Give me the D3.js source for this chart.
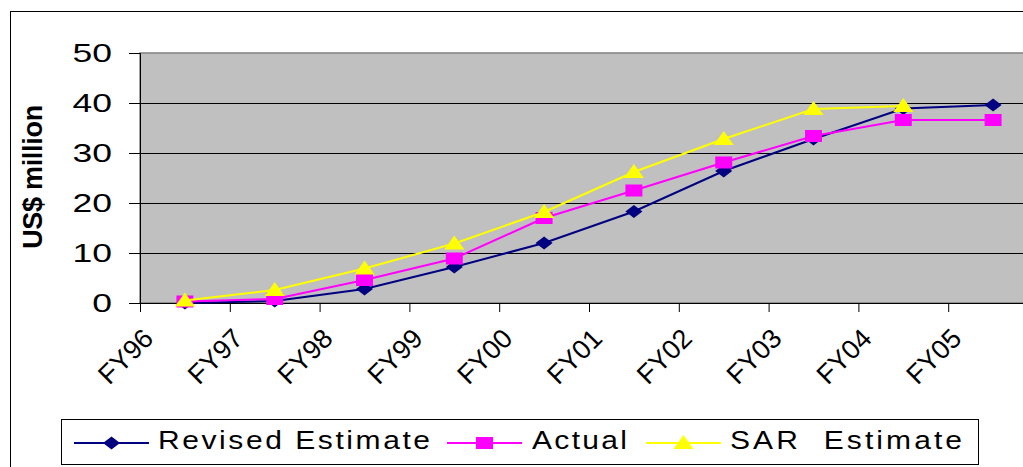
<!DOCTYPE html>
<html>
<head>
<meta charset="utf-8">
<script src="https://cdn.jsdelivr.net/npm/d3@7"></script>
<style>
  html, body { margin: 0; padding: 0; background: #fff; }
  svg { display: block; font-family: "Liberation Sans", Arial, sans-serif; }
</style>
</head>
<body>
<script>
// Chart data
const categories = ['FY96', 'FY97', 'FY98', 'FY99', 'FY00', 'FY01', 'FY02', 'FY03', 'FY04', 'FY05'];
const revisedEstimate = [0, 0.4, 2.8, 7.2, 12, 18.3, 26.4, 32.8, 38.9, 39.6];
const actual = [0.3, 0.8, 4.6, 8.9, 17, 22.5, 28.1, 33.4, 36.6, 36.6];
const sarEstimate = [0.5, 2.6, 6.9, 11.9, 18.2, 26.2, 32.8, 38.8, 39.4, null];
const yTicks = [0, 10, 20, 30, 40, 50];
const seriesNames = ['Revised Estimate', 'Actual', 'SAR  Estimate'];

const width = 1023, height = 467;
const plot = { left: 140, top: 53, bottom: 303, band: 89.8 };

const svg = d3.select('body').append('svg')
    .attr('width', width)
    .attr('height', height);

// outer chart frame
svg.append('rect')
    .attr('x', 10.5).attr('y', 11.5)
    .attr('width', 1100).attr('height', 600)
    .attr('fill', '#fff').attr('stroke', '#000').attr('stroke-width', 1);

const x = d3.scaleBand()
    .domain(categories)
    .range([plot.left, plot.left + plot.band * categories.length]);

const y = d3.scaleLinear()
    .domain([0, 50])
    .range([plot.bottom, plot.top]);

// plot area
svg.append('rect')
    .attr('x', plot.left).attr('y', plot.top)
    .attr('width', 1100).attr('height', plot.bottom - plot.top)
    .attr('fill', '#c0c0c0').attr('stroke', '#808080').attr('stroke-width', 1.5);

// gridlines
svg.append('g')
    .selectAll('line')
    .data(yTicks.filter(d => d > 0 && d < 50))
    .join('line')
    .attr('x1', plot.left).attr('x2', width)
    .attr('y1', d => Math.round(y(d)) + 0.5).attr('y2', d => Math.round(y(d)) + 0.5)
    .attr('stroke', '#000').attr('stroke-width', 1);

// y axis
const yAxis = svg.append('g')
    .attr('transform', `translate(${plot.left},0)`)
    .call(d3.axisLeft(y).tickValues(yTicks).tickSize(11).tickFormat(d3.format('d')));
yAxis.select('.domain').attr('stroke', '#000');
yAxis.selectAll('.tick line').attr('stroke', '#000');
yAxis.selectAll('.tick text')
    .attr('x', null).attr('dy', null)
    .attr('font-size', 25)
    .attr('fill', '#000')
    .attr('text-anchor', 'end')
    .attr('dominant-baseline', 'central')
    .attr('transform', 'translate(-28,0) scale(1.42,1)');

// x axis: ticks between categories
const xAxisG = svg.append('g');
xAxisG.append('line')
    .attr('x1', plot.left).attr('x2', width)
    .attr('y1', plot.bottom + 0.5).attr('y2', plot.bottom + 0.5)
    .attr('stroke', '#000');
xAxisG.selectAll('line.tick')
    .data(categories)
    .join('line')
    .attr('class', 'tick')
    .attr('x1', d => x(d) + 0.5).attr('x2', d => x(d) + 0.5)
    .attr('y1', plot.bottom).attr('y2', plot.bottom + 9)
    .attr('stroke', '#000');
xAxisG.selectAll('text')
    .data(categories)
    .join('text')
    .attr('transform', d => `translate(${x(d) + x.bandwidth() / 2 - 30},340) rotate(-45)`)
    .attr('text-anchor', 'end')
    .attr('font-size', 27)
    .attr('fill', '#000')
    .text(d => d);

// y axis title
svg.append('text')
    .attr('transform', 'translate(42,177) rotate(-90)')
    .attr('text-anchor', 'middle')
    .attr('font-size', 27)
    .attr('font-weight', 'bold')
    .attr('letter-spacing', -0.3)
    .text('US$ million');

// marker shapes
const diamond = { draw(ctx) { ctx.moveTo(0, -6.5); ctx.lineTo(8.5, 0); ctx.lineTo(0, 6.5); ctx.lineTo(-8.5, 0); ctx.closePath(); } };
const square = { draw(ctx) { ctx.rect(-8.5, -6, 17, 12); } };
const triangle = { draw(ctx) { ctx.moveTo(0, -8); ctx.lineTo(10, 6); ctx.lineTo(-10, 6); ctx.closePath(); } };

const series = [
    { name: seriesNames[0], values: revisedEstimate, color: '#000080', symbol: diamond },
    { name: seriesNames[1], values: actual, color: '#ff00ff', symbol: square },
    { name: seriesNames[2], values: sarEstimate, color: '#ffff00', symbol: triangle }
];

const line = d3.line()
    .defined(d => d.v != null)
    .x(d => x(d.c) + x.bandwidth() / 2)
    .y(d => y(d.v));

series.forEach(s => {
    const pts = categories.map((c, i) => ({ c, v: s.values[i] }));
    const g = svg.append('g');
    g.append('path')
        .attr('d', line(pts))
        .attr('fill', 'none')
        .attr('stroke', s.color)
        .attr('stroke-width', 2);
    g.selectAll('path.m')
        .data(pts.filter(d => d.v != null))
        .join('path')
        .attr('class', 'm')
        .attr('transform', d => `translate(${x(d.c) + x.bandwidth() / 2},${y(d.v)})`)
        .attr('d', d3.symbol().type(s.symbol))
        .attr('fill', s.color);
});

// legend
const legendItems = [
    { x0: 74, textX: 158, textLen: 272 },
    { x0: 447, textX: 532, textLen: 95 },
    { x0: 646, textX: 730, textLen: 232 }
];
const legendStretch = 1.2;
const legend = svg.append('g');
legend.append('rect')
    .attr('x', 61.5).attr('y', 419.5)
    .attr('width', 917).attr('height', 45)
    .attr('fill', '#fff').attr('stroke', '#000');
series.forEach((s, i) => {
    const it = legendItems[i];
    const ly = 443;
    legend.append('line')
        .attr('x1', it.x0).attr('x2', it.x0 + 75)
        .attr('y1', ly).attr('y2', ly)
        .attr('stroke', s.color).attr('stroke-width', 2);
    legend.append('path')
        .attr('transform', `translate(${it.x0 + 37.5},${ly})`)
        .attr('d', d3.symbol().type(s.symbol))
        .attr('fill', s.color);
    legend.append('text')
        .attr('transform', `translate(${it.textX},449) scale(${legendStretch},1)`)
        .attr('font-size', 25)
        .attr('textLength', it.textLen / legendStretch)
        .attr('lengthAdjust', 'spacing')
        .style('white-space', 'pre')
        .text(s.name);
});
</script>
</body>
</html>
